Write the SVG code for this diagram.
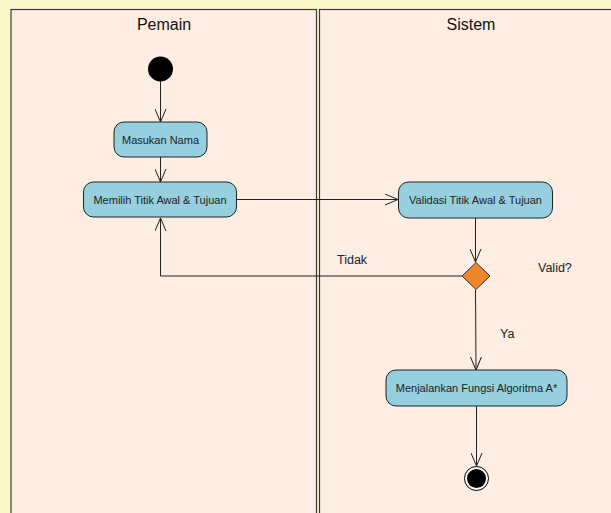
<svg xmlns="http://www.w3.org/2000/svg" width="611" height="513" viewBox="0 0 611 513">
<style>
.lane{fill:#fdede3;stroke:#3a3a3a;stroke-width:1.2}
.title{font-family:"Liberation Sans",Arial,sans-serif;font-size:16px;fill:#111;text-anchor:middle}
.act{fill:#96cfdd;stroke:#222;stroke-width:1}
.atxt{font-family:"Liberation Sans",Arial,sans-serif;font-size:11px;fill:#222;text-anchor:middle}
.lbl{font-family:"Liberation Sans",Arial,sans-serif;font-size:12.5px;fill:#222}
.edge{fill:none;stroke:#222;stroke-width:1}
</style>
<defs>
<marker id="arr" viewBox="0 0 14 12" refX="13" refY="6" markerWidth="14" markerHeight="12" markerUnits="userSpaceOnUse" orient="auto">
<path d="M0,0.5 L13,6 L0,11.5" fill="none" stroke="#222" stroke-width="1"/>
</marker>
</defs>
<rect x="0" y="0" width="611" height="513" fill="#fcf8cc"/>
<g id="lane-pemain">
<rect class="lane" x="11" y="9.5" width="305.5" height="520"/>
<text class="title" x="164" y="30">Pemain</text>
</g>
<g id="lane-sistem">
<rect class="lane" x="319.5" y="9.5" width="310" height="520"/>
<text class="title" x="471" y="30">Sistem</text>
</g>
<g id="connectors">
<line class="edge" x1="160.5" y1="81" x2="160.5" y2="122" marker-end="url(#arr)"/>
<line class="edge" x1="160.5" y1="157" x2="160.5" y2="182" marker-end="url(#arr)"/>
<line class="edge" x1="237" y1="199.5" x2="398" y2="199.5" marker-end="url(#arr)"/>
<line class="edge" x1="475.5" y1="218" x2="475.5" y2="262" marker-end="url(#arr)"/>
<polyline class="edge" points="462,276 160.5,276 160.5,218" marker-end="url(#arr)"/>
<line class="edge" x1="475.5" y1="290" x2="476" y2="370" marker-end="url(#arr)"/>
<line class="edge" x1="476.5" y1="406" x2="476.5" y2="466" marker-end="url(#arr)"/>
<text class="lbl" x="337" y="264">Tidak</text>
<text class="lbl" x="538" y="272">Valid?</text>
<text class="lbl" x="500" y="338">Ya</text>
</g>
<g id="start">
<circle cx="160.5" cy="69" r="12.5" fill="#000"/>
</g>
<g id="masukan-nama">
<rect class="act" x="114" y="122" width="93" height="35" rx="10"/>
<text class="atxt" x="160.5" y="143.5">Masukan Nama</text>
</g>
<g id="memilih">
<rect class="act" x="83.5" y="182" width="153" height="35" rx="10"/>
<text class="atxt" x="160" y="203.5">Memilih Titik Awal &amp; Tujuan</text>
</g>
<g id="validasi">
<rect class="act" x="398.5" y="182" width="154" height="36" rx="10"/>
<text class="atxt" x="475.5" y="203.5">Validasi Titik Awal &amp; Tujuan</text>
</g>
<g id="decision">
<polygon points="476,262.5 490,276 476,289.5 462,276" fill="#f0862a" stroke="#333" stroke-width="1"/>
</g>
<g id="menjalankan">
<rect class="act" x="386" y="370" width="181" height="36" rx="10"/>
<text class="atxt" x="476.5" y="392">Menjalankan Fungsi Algoritma A*</text>
</g>
<g id="end">
<circle cx="476.5" cy="478.5" r="12" fill="#fff" stroke="#000" stroke-width="1"/>
<circle cx="476.5" cy="478.5" r="9.5" fill="#000"/>
</g>
</svg>
